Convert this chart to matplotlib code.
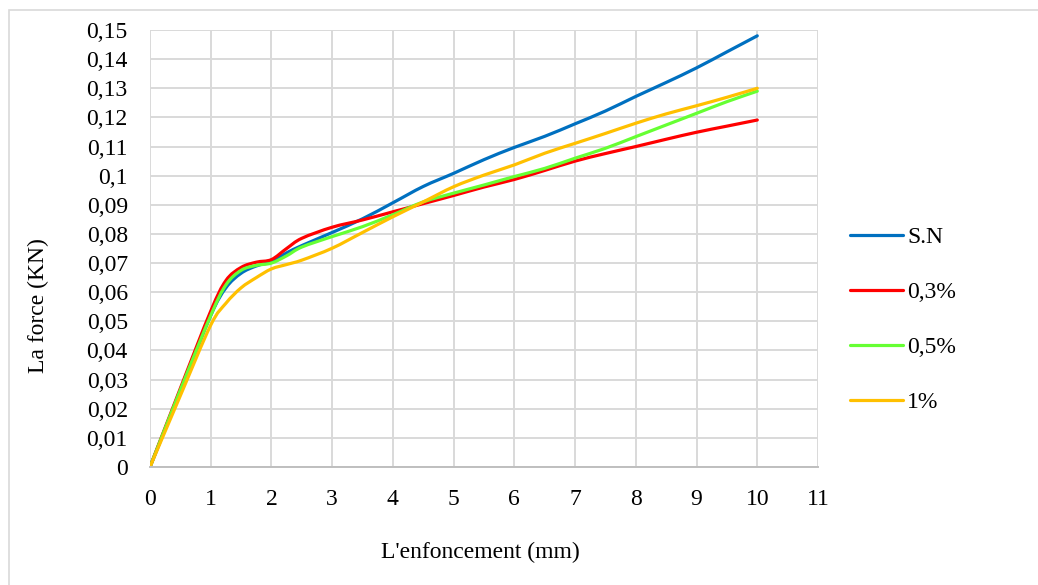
import matplotlib
matplotlib.use("Agg")
import numpy as np
import matplotlib.pyplot as plt
from matplotlib.patches import Rectangle, PathPatch
from matplotlib.path import Path
from matplotlib.lines import Line2D
from matplotlib.ticker import FuncFormatter, MultipleLocator

# Penetration depth (mm)
enfoncement = [0, 0.5, 1, 1.25, 1.5, 1.75, 2, 2.25, 2.5, 3, 3.5, 4, 4.5,
               5, 5.5, 6, 6.5, 7, 7.5, 8, 8.5, 9, 9.5, 10]

# Force (kN) per mix
force_sn = [0, 0.026, 0.052, 0.0615, 0.0665, 0.069, 0.0705, 0.0735, 0.0760,
            0.0805, 0.0852, 0.0907, 0.0963, 0.1008, 0.1055, 0.1097, 0.1135,
            0.1178, 0.1222, 0.1272, 0.1320, 0.1370, 0.1425, 0.148]
force_03 = [0, 0.027, 0.0535, 0.0640, 0.0685, 0.0703, 0.0712, 0.0750, 0.0785,
            0.0823, 0.0848, 0.0876, 0.0904, 0.0932, 0.0961, 0.0987, 0.1018,
            0.1050, 0.1076, 0.1100, 0.1125, 0.1149, 0.1170, 0.1191]
force_05 = [0, 0.0265, 0.052, 0.0625, 0.0675, 0.0692, 0.0700, 0.0725, 0.0755,
            0.0791, 0.0825, 0.0866, 0.0910, 0.0940, 0.0968, 0.0997, 0.1025,
            0.1060, 0.1094, 0.1134, 0.1174, 0.1214, 0.1254, 0.129]
force_1 = [0, 0.0245, 0.0487, 0.0562, 0.0615, 0.0650, 0.0680, 0.0695, 0.0710,
           0.0751, 0.0805, 0.0859, 0.0910, 0.0962, 0.1002, 0.1037, 0.1077,
           0.1111, 0.1145, 0.118, 0.1212, 0.124, 0.1269, 0.130]

labels = ["S.N", "0,3%", "0,5%", "1%"]
series = [force_sn, force_03, force_05, force_1]
colors = ["#0070C0", "#FF0000", "#66FF33", "#FFC000"]

FS = 17
plt.rcParams["font.family"] = ["Liberation Serif", "DejaVu Serif"]

fig = plt.figure(figsize=(10.38, 5.85), dpi=100)
ax = fig.add_axes([150 / 1038, 1 - 467 / 585, 668 / 1038, 437 / 585])

# outer chart frame
fig.patches.append(Rectangle((9 / 1038, -0.1), 1.2, (585 - 10) / 585 + 0.1,
                             transform=fig.transFigure, fill=False,
                             edgecolor="#D9D9D9", linewidth=1.2))


def smooth_path(xs, ys):
    """Smoothed-line path: cubic Bezier segments through every data point."""
    p = np.column_stack([xs, ys]).astype(float)
    verts = [p[0]]
    codes = [Path.MOVETO]
    n = len(p)
    for i in range(n - 1):
        p0 = p[i - 1] if i > 0 else p[i]
        p1, p2 = p[i], p[i + 1]
        p3 = p[i + 2] if i + 2 < n else p[i + 1]
        c1 = p1 + (p2 - p0) / 6.0
        c2 = p2 - (p3 - p1) / 6.0
        verts += [c1, c2, p2]
        codes += [Path.CURVE4] * 3
    return Path(verts, codes)


handles = []
for y, lab, c in zip(series, labels, colors):
    ax.add_patch(PathPatch(smooth_path(enfoncement, y), fill=False,
                           edgecolor=c, lw=2.3, joinstyle="round",
                           capstyle="round"))
    handles.append(Line2D([], [], color=c, lw=2.3, solid_capstyle="round",
                          label=lab))

ax.set_xlim(0, 11)
ax.set_ylim(0, 0.15)
ax.xaxis.set_major_locator(MultipleLocator(1))
ax.yaxis.set_major_locator(MultipleLocator(0.01))


def comma(v, pos):
    s = "%g" % round(v, 4)
    return s.replace(".", ",")


ax.yaxis.set_major_formatter(FuncFormatter(comma))
ax.xaxis.set_major_formatter(FuncFormatter(comma))

ax.grid(True, color="#D9D9D9", lw=1.4)
ax.set_axisbelow(True)
for s in ["top", "right", "left"]:
    ax.spines[s].set_visible(False)
ax.spines["bottom"].set_color("#BFBFBF")
ax.spines["bottom"].set_linewidth(1.4)
ax.tick_params(length=0, labelsize=FS)
ax.tick_params(axis="x", pad=16)
ax.tick_params(axis="y", pad=16)

fig.text(38 / 1038, 1 - 306 / 585, "La force (KN)", fontsize=FS,
         rotation=90, ha="center", va="center")
fig.text(480 / 1038, 1 - 552 / 585, "L'enfoncement (mm)", fontsize=FS,
         ha="center", va="center")

fig.legend(handles=handles, loc="center left",
           bbox_to_anchor=(829 / 1038, 1 - 320 / 585),
           frameon=False, fontsize=FS, handlelength=2.25, handletextpad=0.17,
           labelspacing=1.42)

fig.savefig("out.png", dpi=100)
